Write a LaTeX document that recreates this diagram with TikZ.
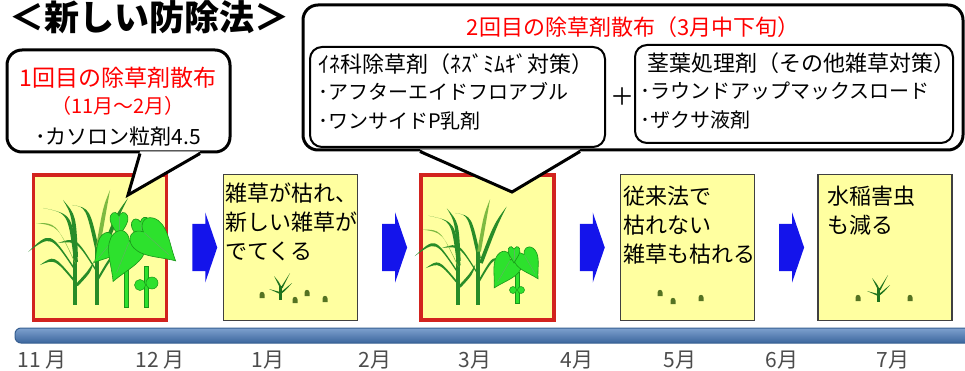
\documentclass[tikz,border=0pt]{standalone}
\usepackage{fontspec}
\setmainfont{Noto Sans CJK JP}
\usepackage{xcolor}
\usepackage{tikz}
\usetikzlibrary{positioning,calc}
\definecolor{PanelYellow}{RGB}{255,255,160}
\definecolor{AlertRed}{RGB}{210,35,30}
\definecolor{TextRed}{RGB}{255,0,0}
\definecolor{FlowBlue}{RGB}{20,20,235}
\definecolor{BarBlue}{RGB}{70,120,185}
\definecolor{BarEdge}{RGB}{55,95,145}
\definecolor{GrassDark}{RGB}{40,140,40}
\definecolor{GrassLight}{RGB}{125,185,65}
\definecolor{LeafGreen}{RGB}{45,225,45}
\definecolor{LeafEdge}{RGB}{25,150,25}
\definecolor{SproutGreen}{RGB}{30,115,30}
\definecolor{BudGreen}{RGB}{85,115,35}

% one grass blade: base, control, tip, width offset
\newcommand{\blade}[4]{\fill #1 .. controls #2 .. #3 .. controls ($#2+#4$) .. ($#1+#4$) -- cycle;}

\tikzset{
    panel/.style={draw=black!75, line width=1.2pt, fill=PanelYellow, minimum width=134pt, minimum height=146pt, inner sep=0pt},
    sprayed/.style={panel, draw=AlertRed, line width=3.5pt, minimum width=133pt, minimum height=145pt},
    bubble/.style={draw=black, line width=3pt, fill=white, rounded corners=15pt, inner sep=0pt},
    bubbleline/.style={draw=black, line width=3pt, line join=miter},
    herbbox/.style={draw=black, line width=2pt, rounded corners=12pt, inner sep=0pt},
    headline/.style={anchor=base west, inner sep=0pt, font=\fontsize{35}{40}\selectfont\bfseries},
    redline/.style={anchor=base, inner sep=0pt, text=TextRed, font=\fontsize{22}{26}\selectfont},
    itemline/.style={anchor=base west, inner sep=0pt, font=\fontsize{20}{24}\selectfont},
    paneltext/.style={anchor=north west, inner sep=0pt, align=left, font=\fontsize{22}{29}\selectfont},
    monthlabel/.style={anchor=base, inner sep=0pt, text=black!70, font=\fontsize{21}{24}\selectfont},
    timebar/.style={draw=BarEdge, line width=1pt, top color=BarBlue!70!white, bottom color=BarBlue!85!black, rounded corners=6pt},
    stalk/.style={fill=LeafGreen, draw=LeafEdge, line width=0.5pt},
    pics/flowarrow/.style={code={
        \fill[FlowBlue] (0,-23.5) -- (13,-23.5) -- (13,-35) -- (25,0) -- (13,35) -- (13,23.5) -- (0,23.5) -- cycle;
    }},
    pics/heartleaf/.style={code={
        \filldraw[fill=LeafGreen, draw=LeafEdge, line width=0.6pt] (0,24) .. controls (-5,14) and (-15,4) .. (-11,-5)
            .. controls (-8,-11) and (-2,-9) .. (0,-4) .. controls (2,-9) and (8,-11) .. (11,-5)
            .. controls (15,4) and (5,14) .. (0,24) -- cycle;
        \draw[LeafEdge!70, line width=0.5pt] (0,-3) -- (0,18);
    }},
    pics/grassclump/.style={code={
        \fill[GrassDark] (-13,0) rectangle (-9,-50);
        \fill[GrassDark] (9,0) rectangle (13,-60);
        \begin{scope}[fill=GrassDark]
            \blade{(-12,-44)}{(-18,-92)}{(-43,-97)}{(4,1)}
            \blade{(-12,-38)}{(-36,-74)}{(-58,-53)}{(1,4)}
            \blade{(-12,-26)}{(-32,-50)}{(-46,-40)}{(1,4)}
            \blade{(-12,-48)}{(-14,-90)}{(-23,-105)}{(4,0)}
            \blade{(10,-52)}{(0,-98)}{(-14,-100)}{(4,1)}
            \blade{(12,-46)}{(28,-88)}{(42,-107)}{(4,1)}
            \blade{(10,-36)}{(-10,-68)}{(-28,-62)}{(1,4)}
            \blade{(12,-28)}{(26,-52)}{(34,-50)}{(0,4)}
            \blade{(-11,-20)}{(2,-34)}{(8,-44)}{(3,1)}
        \end{scope}
        \begin{scope}[fill=GrassLight]
            \blade{(10,-58)}{(17,-98)}{(24,-115)}{(4,0)}
            \blade{(-12,-44)}{(-30,-82)}{(-50,-82)}{(2,3)}
        \end{scope}
    }},
    pics/seedling/.style={code={
        \fill[SproutGreen] (-1,0) rectangle (1.5,-14);
        \begin{scope}[fill=SproutGreen]
            \blade{(0,-8)}{(-6,-10)}{(-11,-11)}{(0,2)}
            \blade{(0,-12)}{(-3,-18)}{(-6,-24)}{(2,0)}
            \blade{(0.5,-12)}{(5,-20)}{(10,-27)}{(2,0)}
            \blade{(1,-8)}{(6,-12)}{(12,-17)}{(0,2)}
        \end{scope}
    }},
    pics/stub/.style={code={
        \fill[BudGreen] (-2.5,0) -- (-2.5,-3.5) .. controls (-2.5,-7) and (2.5,-7) .. (2.5,-3.5) -- (2.5,0) -- cycle;
    }}
}

\begin{document}
\begin{tikzpicture}[x=1pt, y=-1pt]
    \useasboundingbox (0,0) rectangle (965,371);

    % heading
    \node[headline] (title) at (9,31) {＜新しい防除法＞};

    % time axis and months
    \shade[timebar] (15,328) rectangle (985,343);
    \foreach \x/\lab [count=\i] in {42/11 月, 160/12 月, 268/1月, 375/2月, 475/3月, 577/4月, 680/5月, 782/6月, 893/7月}
        \node[monthlabel] (month\i) at (\x,367) {\lab};

    % stages
    \node[sprayed] (p1) at (100,247.5) {};
    \node[panel] (p2) at (290.5,247.5) {};
    \node[sprayed] (p3) at (487.5,247.5) {};
    \node[panel] (p4) at (687.5,247.5) {};
    \node[panel] (p5) at (885,247.5) {};

    \foreach \a in {p1,p2,p3,p4}
        \pic at ($(\a.east)+(24,0)$) {flowarrow};

    % weeds before the first spraying
    \pic at (86,305) {grassclump};
    \filldraw[stalk] (124,270) rectangle (128.5,307);
    \filldraw[stalk] (144,266) rectangle (148.5,307);
    \pic[scale=1.0, rotate=-40] at (110,244) {heartleaf};
    \pic[scale=0.75] at (119,219) {heartleaf};
    \pic[scale=0.8, rotate=10] at (141,225) {heartleaf};
    \pic[scale=1.55, rotate=-22] at (127,247) {heartleaf};
    \pic[scale=1.55, rotate=48] at (148,236) {heartleaf};
    \filldraw[stalk] (140,285) circle (5.5);
    \filldraw[stalk] (152,283) circle (6);

    % new weeds
    \pic at (280,300) {seedling};
    \foreach \x/\y in {262/298, 295/303, 307/296, 325/302}
        \pic at (\x,\y) {stub};

    % weeds before the second spraying
    \pic[scale=0.92] at (468,305) {grassclump};
    \filldraw[stalk] (515.5,272) rectangle (519,303);
    \pic[scale=1.15, rotate=-30] at (508,264) {heartleaf};
    \pic[scale=1.0, rotate=30] at (526,258) {heartleaf};
    \pic[scale=0.5] at (514,251) {heartleaf};
    \filldraw[stalk] (513,290) circle (3.5);
    \filldraw[stalk] (521,290) circle (3.5);

    % after the second spraying
    \foreach \x/\y in {660/296, 673/304, 701/301, 858/301, 910/301}
        \pic at (\x,\y) {stub};
    \pic at (878,302) {seedling};

    % stage notes
    \node[paneltext] (t2) at ($(p2.north west)+(2,9)$) {雑草が枯れ、\\新しい雑草が\\でてくる};
    \node[paneltext] (t4) at ($(p4.north west)+(3,12)$) {従来法で\\枯れない\\雑草も枯れる};
    \node[paneltext] (t5) at ($(p5.north west)+(10,12)$) {水稲害虫\\も減る};

    % first spraying
    \node[bubble, minimum width=223pt, minimum height=102pt] (first) at (118.5,101) {};
    \coordinate (tip1) at (128,195);
    \fill[white] ($(first.south)+(21.5,-2)$) -- (tip1) -- ($(first.south)+(81.5,-2)$) -- cycle;
    \draw[bubbleline] ($(first.south)+(21.5,0)$) -- (tip1) -- ($(first.south)+(81.5,0)$);
    \node[redline, font=\fontsize{23}{26}\selectfont] (first title) at (118,87) {1回目の除草剤散布};
    \node[redline, font=\fontsize{20}{24}\selectfont] (first period) at (118,114) {（11月～2月）};
    \node[itemline, anchor=base, font=\fontsize{21}{24}\selectfont] (first item) at (118,145) {･カソロン粒剤4.5};

    % second spraying
    \node[bubble, minimum width=660pt, minimum height=145pt] (second) at (633,77.5) {};
    \coordinate (tip2) at (512,192);
    \fill[white] ($(second.south)+(-213,-2)$) -- (tip2) -- ($(second.south)+(-53,-2)$) -- cycle;
    \draw[bubbleline] ($(second.south)+(-213,0)$) -- (tip2) -- ($(second.south)+(-53,0)$);
    \node[redline] (second title) at (633,36) {2回目の除草剤散布（3月中下旬）};

    \node[herbbox, minimum width=295pt, minimum height=100pt] (grassbox) at (457.5,97) {};
    \node[herbbox, minimum width=318pt, minimum height=98pt] (leafbox) at (794,94) {};
    \node (plus) at (622,97) {\fontsize{24}{26}\selectfont ＋};

    \node[itemline, font=\fontsize{22}{24}\selectfont] (grass head) at (318,73) {ｲﾈ科除草剤（ﾈｽﾞﾐﾑｷﾞ対策）};
    \node[itemline] (grass a) at (318,99.5) {･アフターエイドフロアブル};
    \node[itemline] (grass b) at (318,128.5) {･ワンサイドP乳剤};
    \node[itemline, font=\fontsize{22}{24}\selectfont] (leaf head) at (647,72) {茎葉処理剤（その他雑草対策）};
    \node[itemline] (leaf a) at (640,98.5) {･ラウンドアップマックスロード};
    \node[itemline] (leaf b) at (640,127.5) {･ザクサ液剤};
\end{tikzpicture}
\end{document}
